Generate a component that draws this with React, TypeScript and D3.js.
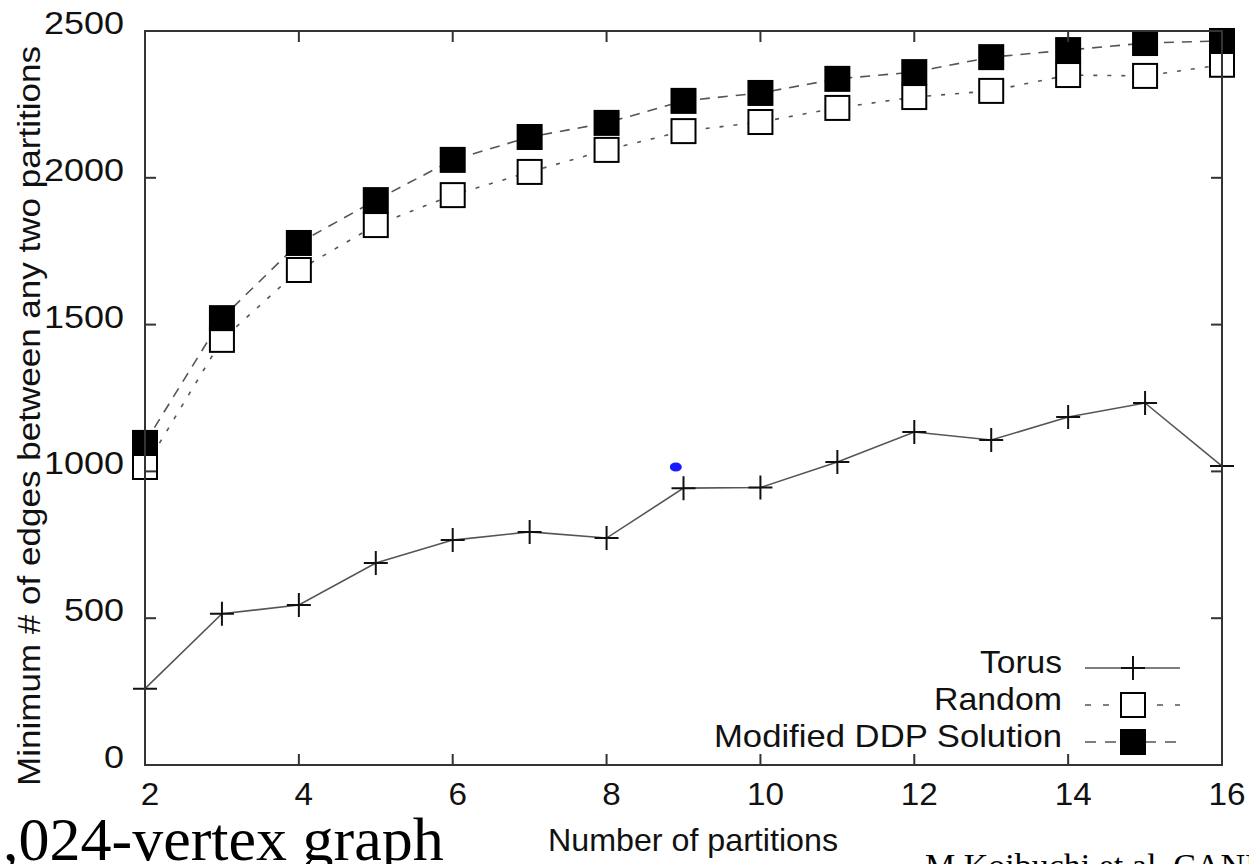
import React from 'react';
import * as d3 from 'd3';

const partitions = [2, 3, 4, 5, 6, 7, 8, 9, 10, 11, 12, 13, 14, 15, 16];
const torus = [260, 515, 545, 688, 766, 794, 773, 943, 945, 1032, 1134, 1107, 1185, 1233, 1018];
const random = [1015, 1448, 1686, 1839, 1941, 2020, 2095, 2159, 2190, 2238, 2275, 2296, 2350, 2347, 2385];
const ddp = [1097, 1522, 1778, 1924, 2061, 2139, 2187, 2262, 2289, 2337, 2360, 2411, 2435, 2459, 2466];
const xTicks = [2, 4, 6, 8, 10, 12, 14, 16];
const yTicks = [0, 500, 1000, 1500, 2000, 2500];
const legendLabels = ['Torus', 'Random', 'Modified DDP Solution'];
const blueMark = { x: 8.9, y: 1015 };

const W = 1249;
const H = 864;
const SANS = '"Liberation Sans", Arial, Helvetica, sans-serif';
const SERIF = '"Liberation Serif", "Times New Roman", serif';

export default function App() {
  const x = d3.scaleLinear().domain([2, 16]).range([145, 1222]);
  const y = d3.scaleLinear().domain([0, 2500]).range([765, 31]);
  const line = d3
    .line<number>()
    .x((_, i) => x(partitions[i]))
    .y((d) => y(d));

  const x0 = x.range()[0];
  const x1 = x.range()[1];
  const y0 = y.range()[0];
  const y1 = y.range()[1];
  const tl = 11;
  const lineColor = '#555';
  const frameColor = '#333';
  const sq = 24;

  const cross = (cx: number, cy: number, key: string) => (
    <path key={key} d={`M${cx - 12},${cy}H${cx + 12}M${cx},${cy - 12}V${cy + 12}`} stroke="#111" strokeWidth={2} fill="none" />
  );
  const square = (cx: number, cy: number, filled: boolean, key: string) => (
    <rect key={key} x={cx - sq / 2} y={cy - sq / 2} width={sq} height={sq} fill={filled ? '#000' : '#fff'} stroke="#000" strokeWidth={2} />
  );

  const legX0 = 1085;
  const legX1 = 1180;
  const legMx = 1133;
  const legTextX = 1062;
  const legRows = [668, 705, 742];
  const legWidths = [82, 128, 348];

  return (
    <svg width={W} height={H} style={{ position: 'absolute', left: 0, top: 0, background: '#fff' }} xmlns="http://www.w3.org/2000/svg">
      <rect x={0} y={0} width={W} height={H} fill="#fff" />

      {/* series lines */}
      <path d={line(torus) || ''} fill="none" stroke={lineColor} strokeWidth={1.6} />
      <path d={line(random) || ''} fill="none" stroke={lineColor} strokeWidth={1.6} strokeDasharray="4,10" />
      <path d={line(ddp) || ''} fill="none" stroke={lineColor} strokeWidth={1.6} strokeDasharray="10,8" />

      {/* markers */}
      {torus.map((v, i) => cross(x(partitions[i]), y(v), 't' + i))}
      {random.map((v, i) => square(x(partitions[i]), y(v), false, 'r' + i))}
      {ddp.map((v, i) => square(x(partitions[i]), y(v), true, 'd' + i))}

      {/* stray blue mark */}
      <ellipse cx={x(blueMark.x)} cy={y(blueMark.y)} rx={6} ry={4.5} fill="#1a1aff" />

      {/* frame & ticks */}
      <rect x={x0} y={y1} width={x1 - x0} height={y0 - y1} fill="none" stroke={frameColor} strokeWidth={2} />
      {xTicks.map((t) => (
        <g key={'xt' + t}>
          <line x1={x(t)} x2={x(t)} y1={y0} y2={y0 - tl} stroke={frameColor} strokeWidth={2} />
          <line x1={x(t)} x2={x(t)} y1={y1} y2={y1 + tl} stroke={frameColor} strokeWidth={2} />
          <text x={x(t) + 5} y={805} textAnchor="middle" fontFamily={SANS} fontSize={31} fill="#111"
            textLength={18.5 * String(t).length} lengthAdjust="spacingAndGlyphs">{t}</text>
        </g>
      ))}
      {yTicks.map((t) => (
        <g key={'yt' + t}>
          <line x1={x0} x2={x0 + tl} y1={y(t)} y2={y(t)} stroke={frameColor} strokeWidth={2} />
          <line x1={x1} x2={x1 - tl} y1={y(t)} y2={y(t)} stroke={frameColor} strokeWidth={2} />
          <text x={124} y={y(t) + 3} textAnchor="end" fontFamily={SANS} fontSize={31} fill="#111"
            textLength={20 * String(t).length} lengthAdjust="spacingAndGlyphs">{t}</text>
        </g>
      ))}

      {/* axis titles */}
      <text transform="translate(40,416) rotate(-90)" textAnchor="middle" fontFamily={SANS} fontSize={31} fill="#111"
        textLength={740} lengthAdjust="spacingAndGlyphs">Minimum # of edges between any two partitions</text>
      <text x={693} y={851} textAnchor="middle" fontFamily={SANS} fontSize={32} fill="#111"
        textLength={290} lengthAdjust="spacingAndGlyphs">Number of partitions</text>

      {/* legend */}
      {legendLabels.map((lab, i) => (
        <text key={'lt' + i} x={legTextX} y={legRows[i] + 5} textAnchor="end" fontFamily={SANS} fontSize={32} fill="#111"
          textLength={legWidths[i]} lengthAdjust="spacingAndGlyphs">{lab}</text>
      ))}
      <line x1={legX0} x2={legX1} y1={legRows[0]} y2={legRows[0]} stroke={lineColor} strokeWidth={1.6} />
      {cross(legMx, legRows[0], 'lc')}
      <line x1={legX0} x2={legX1} y1={legRows[1]} y2={legRows[1]} stroke={lineColor} strokeWidth={1.6} strokeDasharray="6,12" />
      {square(legMx, legRows[1], false, 'ls1')}
      <line x1={legX0} x2={legX1} y1={legRows[2]} y2={legRows[2]} stroke={lineColor} strokeWidth={1.6} strokeDasharray="11,9" />
      {square(legMx, legRows[2], true, 'ls2')}

      {/* overlapping slide text */}
      <text x={-28} y={860} fontFamily={SERIF} fontSize={62} fill="#000">1,024-vertex graph</text>
      <text x={925} y={877} fontFamily={SERIF} fontSize={34} fill="#000">M.Koibuchi et al. CANDAR</text>
    </svg>
  );
}
